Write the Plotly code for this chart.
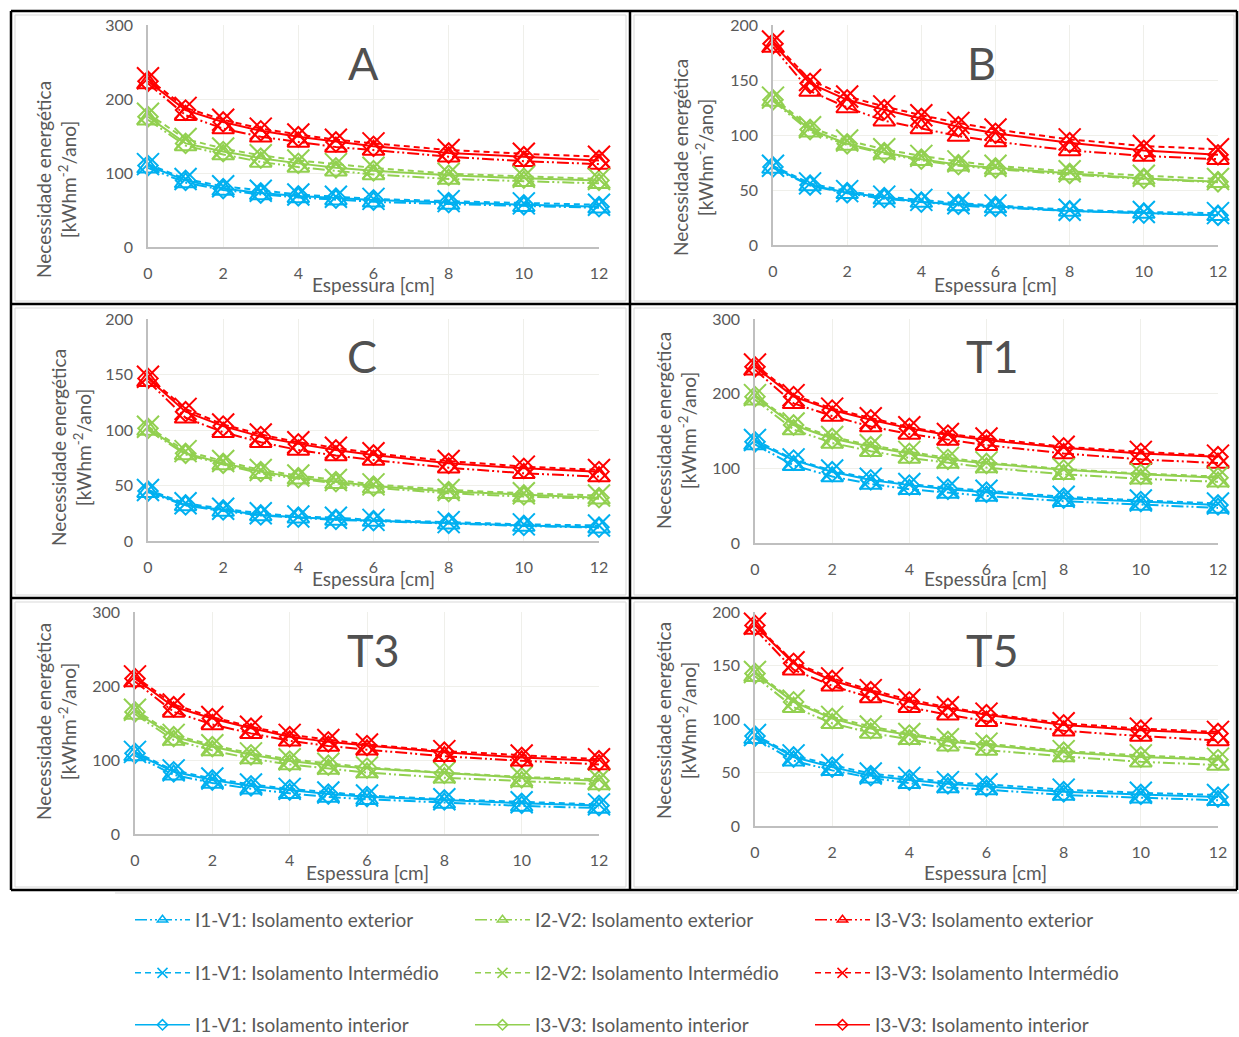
import plotly.graph_objects as go

W, H = 1239, 1037
espessura = [0, 1, 2, 3, 4, 5, 6, 8, 10, 12]

# ---- Panel A ----
A_I1_ext = [107, 87, 77, 71, 67, 64, 61, 58, 55, 53]
A_I2_ext = [172, 137, 125, 115, 108, 103, 98, 92, 89, 86]
A_I3_ext = [221, 178, 160, 149, 142, 135, 131, 122, 116, 112]
A_I1_med = [112, 92, 82, 76, 71, 68, 65, 62, 59, 57]
A_I2_med = [180, 146, 133, 124, 117, 112, 107, 99, 95, 92]
A_I3_med = [228, 188, 172, 160, 152, 145, 140, 131, 126, 122]
A_I1_inr = [110, 90, 79, 73, 69, 66, 63.5, 60, 57, 54.5]
A_I2_inr = [176, 140, 129, 120, 113, 107, 103, 97, 93, 90]
A_I3_inr = [224, 185, 169, 157, 149, 142, 136, 127, 122, 117]

# ---- Panel B ----
B_I1_ext = [70, 54, 47, 42, 39, 36, 34, 31, 29, 27]
B_I2_ext = [131, 103, 91, 83, 77, 72, 69, 64, 60, 57]
B_I3_ext = [180, 140, 125, 113, 106, 99, 94, 86, 81, 78]
B_I1_med = [72, 56, 49, 44, 41, 38, 36, 32, 30, 29]
B_I2_med = [134, 107, 95, 87, 81, 76, 72, 67, 63, 60]
B_I3_med = [185, 150, 135, 126, 118, 111, 105, 96, 90, 87]
B_I1_inr = [71, 54.5, 47.5, 43, 39, 37, 35, 31, 29, 27]
B_I2_inr = [132, 105, 92, 84, 78, 73, 70, 65, 60.5, 57.5]
B_I3_inr = [183, 147, 132, 123, 115, 107.5, 101.5, 93, 86, 82]

# ---- Panel C ----
C_I1_ext = [44, 32, 27, 23, 21, 19, 18, 15.5, 13.5, 12]
C_I2_ext = [100, 78, 69, 61, 56, 52, 48, 43, 40, 38]
C_I3_ext = [144, 111, 98, 89, 82, 77, 73, 66, 61, 58]
C_I1_med = [46, 34, 29, 25, 22, 21, 19, 17, 15, 14]
C_I2_med = [103, 81, 72, 64, 59, 55, 51, 46, 43, 41]
C_I3_med = [148, 119, 105, 96, 89, 84, 79, 72, 67, 64]
C_I1_inr = [45, 32.5, 28, 23.5, 21.5, 19.5, 18.3, 16, 14, 12.5]
C_I2_inr = [101.5, 79, 70, 62.5, 57, 53.5, 49.5, 44.5, 41.5, 39]
C_I3_inr = [146.5, 116.5, 103.5, 94, 87.5, 82, 77.5, 70, 65.5, 62.5]

# ---- Panel T1 ----
T1_I1_ext = [132, 104, 89, 79, 72, 67, 63, 56, 51, 47]
T1_I2_ext = [192, 152, 134, 123, 114, 107, 101, 92, 86, 82]
T1_I3_ext = [232, 187, 170, 156, 146, 138, 131, 120, 112, 107]
T1_I1_med = [138, 112, 97, 86, 79, 74, 70, 62, 57, 53]
T1_I2_med = [198, 160, 142, 131, 122, 114, 108, 99, 93, 89]
T1_I3_med = [239, 198, 180, 167, 155, 146, 140, 129, 122, 117]
T1_I1_inr = [135.5, 111, 95.5, 84.5, 77.5, 72, 68, 60, 55.5, 51]
T1_I2_inr = [196, 158, 140, 129, 120, 112, 106.5, 98, 92, 87.5]
T1_I3_inr = [236, 196, 178, 165, 153.5, 144.5, 138, 127.5, 120, 115.5]

# ---- Panel T3 ----
T3_I1_ext = [106, 80, 69, 61, 55, 50, 47, 42, 38, 35]
T3_I2_ext = [162, 127, 113, 102, 94, 88, 83, 76, 71, 67]
T3_I3_ext = [206, 165, 148, 136, 126, 119, 114, 105, 99, 94]
T3_I1_med = [111, 86, 75, 67, 61, 56, 52, 47, 43, 40]
T3_I2_med = [168, 134, 120, 109, 101, 95, 90, 83, 77, 74]
T3_I3_med = [213, 175, 158, 145, 134, 127, 121, 112, 106, 101]
T3_I1_inr = [109, 84, 73, 65, 59.5, 54, 50.5, 46, 41.5, 38.5]
T3_I2_inr = [165, 131.5, 118, 107, 98.5, 93, 89, 82, 76, 72]
T3_I3_inr = [210, 172, 156, 143, 131.5, 124.5, 119.5, 110.5, 103.5, 99]

# ---- Panel T5 ----
T5_I1_ext = [82, 61, 52, 45, 40, 36, 34, 29, 26.5, 24]
T5_I2_ext = [140, 111, 96, 87, 81, 75, 71, 65, 60, 57]
T5_I3_ext = [184, 146, 131, 120, 111, 104, 98, 89, 84, 80]
T5_I1_med = [85, 66, 57, 49, 45, 41, 39, 34, 31, 29]
T5_I2_med = [144, 117, 102, 93, 86, 81, 77, 70, 66, 63]
T5_I3_med = [189, 153, 138, 127, 118, 111, 105, 96, 91, 88]
T5_I1_inr = [84, 64.5, 55, 47, 43, 39.5, 37, 32, 29.5, 27]
T5_I2_inr = [142.5, 116, 100.5, 91, 85, 79, 75.5, 69, 64.5, 62]
T5_I3_inr = [187.5, 152, 136, 125.5, 116, 110, 104, 94.5, 89.5, 86.5]

panel_labels = ["A", "B", "C", "T1", "T3", "T5"]
y_max = [300, 200, 200, 300, 300, 200]
y_step = [100, 50, 50, 100, 100, 50]
x_ticks = [0, 2, 4, 6, 8, 10, 12]

series_names = {
    ("I1", "ext"): "I1-V1: Isolamento exterior",
    ("I2", "ext"): "I2-V2: Isolamento exterior",
    ("I3", "ext"): "I3-V3: Isolamento exterior",
    ("I1", "med"): "I1-V1: Isolamento Intermédio",
    ("I2", "med"): "I2-V2: Isolamento Intermédio",
    ("I3", "med"): "I3-V3: Isolamento Intermédio",
    ("I1", "inr"): "I1-V1: Isolamento interior",
    ("I2", "inr"): "I3-V3: Isolamento interior",
    ("I3", "inr"): "I3-V3: Isolamento interior",
}

panel_data = {
    "A": {("I1", "ext"): A_I1_ext, ("I2", "ext"): A_I2_ext, ("I3", "ext"): A_I3_ext,
          ("I1", "med"): A_I1_med, ("I2", "med"): A_I2_med, ("I3", "med"): A_I3_med,
          ("I1", "inr"): A_I1_inr, ("I2", "inr"): A_I2_inr, ("I3", "inr"): A_I3_inr},
    "B": {("I1", "ext"): B_I1_ext, ("I2", "ext"): B_I2_ext, ("I3", "ext"): B_I3_ext,
          ("I1", "med"): B_I1_med, ("I2", "med"): B_I2_med, ("I3", "med"): B_I3_med,
          ("I1", "inr"): B_I1_inr, ("I2", "inr"): B_I2_inr, ("I3", "inr"): B_I3_inr},
    "C": {("I1", "ext"): C_I1_ext, ("I2", "ext"): C_I2_ext, ("I3", "ext"): C_I3_ext,
          ("I1", "med"): C_I1_med, ("I2", "med"): C_I2_med, ("I3", "med"): C_I3_med,
          ("I1", "inr"): C_I1_inr, ("I2", "inr"): C_I2_inr, ("I3", "inr"): C_I3_inr},
    "T1": {("I1", "ext"): T1_I1_ext, ("I2", "ext"): T1_I2_ext, ("I3", "ext"): T1_I3_ext,
           ("I1", "med"): T1_I1_med, ("I2", "med"): T1_I2_med, ("I3", "med"): T1_I3_med,
           ("I1", "inr"): T1_I1_inr, ("I2", "inr"): T1_I2_inr, ("I3", "inr"): T1_I3_inr},
    "T3": {("I1", "ext"): T3_I1_ext, ("I2", "ext"): T3_I2_ext, ("I3", "ext"): T3_I3_ext,
           ("I1", "med"): T3_I1_med, ("I2", "med"): T3_I2_med, ("I3", "med"): T3_I3_med,
           ("I1", "inr"): T3_I1_inr, ("I2", "inr"): T3_I2_inr, ("I3", "inr"): T3_I3_inr},
    "T5": {("I1", "ext"): T5_I1_ext, ("I2", "ext"): T5_I2_ext, ("I3", "ext"): T5_I3_ext,
           ("I1", "med"): T5_I1_med, ("I2", "med"): T5_I2_med, ("I3", "med"): T5_I3_med,
           ("I1", "inr"): T5_I1_inr, ("I2", "inr"): T5_I2_inr, ("I3", "inr"): T5_I3_inr},
}

# ---- styling / layout (pixel geometry) ----
colors = {"I1": "#00B0F0", "I2": "#92D050", "I3": "#FF0000"}
dash = {"ext": "12px,3px,2px,3px,2px,3px", "med": "6px,4px", "inr": "solid"}
symbol = {"ext": "triangle-up-open", "med": "x-thin-open", "inr": "diamond-open"}
msize = {"ext": 19, "med": 22, "inr": 15}
leg_msize = {"ext": 9, "med": 10, "inr": 8}
col_index = {"I1": 0, "I2": 1, "I3": 2}
row_index = {"ext": 0, "med": 1, "inr": 2}
legend_col_x = [130, 470, 810]
legend_row_y = [920, 973, 1025]

# plot boxes: left, right, top, bottom (px)
boxes = {
    "A": (148, 599, 25, 247),
    "B": (773, 1218, 25, 245),
    "C": (148, 599, 319, 541),
    "T1": (755, 1218, 319, 543),
    "T3": (135, 599, 612, 834),
    "T5": (755, 1218, 612, 826),
}
letter_pos = {"A": (363, 63), "B": (982, 63), "C": (362, 356),
              "T1": (992, 356), "T3": (373, 650), "T5": (992, 650)}
ytitle_pos = {"A": (56, 180), "B": (693, 157), "C": (71, 448),
              "T1": (676, 431), "T3": (56, 722), "T5": (676, 721)}
xtitle_pos = {"A": (373, 285), "B": (995, 285), "C": (373, 578),
              "T1": (985, 578), "T3": (367, 872), "T5": (985, 872)}

FONT = "Lato"
GRAY = "#595959"
GRID = "#efefea"

def px(x):
    return x / W

def py(y):
    return 1 - y / H

def legend_name(grp, typ):
    k = row_index[typ] * 3 + col_index[grp] + 1
    return "legend" if k == 1 else f"legend{k}"

fig = go.Figure()
layout = dict(
    width=W, height=H, margin=dict(l=0, r=0, t=0, b=0, autoexpand=False),
    paper_bgcolor="white", plot_bgcolor="white",
    font=dict(family=FONT, color=GRAY),
)

annotations = []
shapes = []

for i, lab in enumerate(panel_labels):
    n = i + 1
    xa = "x" if n == 1 else f"x{n}"
    ya = "y" if n == 1 else f"y{n}"
    l, r, t, b = boxes[lab]
    layout["xaxis" if n == 1 else f"xaxis{n}"] = dict(
        domain=[px(l), px(r)], anchor=ya, range=[0, 12],
        tickvals=x_ticks, showgrid=True, gridcolor=GRID, gridwidth=1,
        showline=True, linecolor="#bfbfbf", linewidth=1.5, zeroline=False,
        ticks="", ticklabelstandoff=11,
        tickfont=dict(family=FONT, size=16, color=GRAY),
    )
    layout["yaxis" if n == 1 else f"yaxis{n}"] = dict(
        domain=[py(b), py(t)], anchor=xa, range=[0, y_max[i]],
        dtick=y_step[i], tick0=0, showgrid=True, gridcolor=GRID, gridwidth=1,
        showline=True, linecolor="#bfbfbf", linewidth=1.5, zeroline=False,
        ticks="", ticklabelstandoff=10,
        tickfont=dict(family=FONT, size=16, color=GRAY),
    )
    for typ in ["ext", "med", "inr"]:
        for grp in ["I1", "I2", "I3"]:
            fig.add_trace(go.Scatter(
                x=espessura, y=panel_data[lab][(grp, typ)],
                xaxis=xa, yaxis=ya, mode="lines+markers",
                name=series_names[(grp, typ)], showlegend=False,
                cliponaxis=False,
                line=dict(color=colors[grp], width=2, dash=dash[typ]),
                marker=dict(symbol=symbol[typ], size=msize[typ],
                            color=colors[grp],
                            line=dict(color=colors[grp], width=2)),
            ))
    lx, ly = letter_pos[lab]
    annotations.append(dict(text=lab, x=px(lx), y=py(ly), xref="paper", yref="paper",
                            showarrow=False, xanchor="center", yanchor="middle",
                            font=dict(family=FONT, size=45, color="#505050")))
    tx, ty = ytitle_pos[lab]
    annotations.append(dict(text="Necessidade energética<br>[kWhm<sup>-2</sup>/ano]",
                            x=px(tx), y=py(ty), xref="paper", yref="paper",
                            showarrow=False, textangle=-90, xanchor="center", yanchor="middle",
                            font=dict(family=FONT, size=19, color=GRAY)))
    ex, ey = xtitle_pos[lab]
    annotations.append(dict(text="Espessura [cm]", x=px(ex), y=py(ey),
                            xref="paper", yref="paper", showarrow=False,
                            xanchor="center", yanchor="middle",
                            font=dict(family=FONT, size=19, color=GRAY)))

# legend entries (legend-only traces with small markers, as in the reference legend)
for typ in ["ext", "med", "inr"]:
    for grp in ["I1", "I2", "I3"]:
        fig.add_trace(go.Scatter(
            x=[None], y=[None], xaxis="x", yaxis="y", mode="lines+markers",
            name=series_names[(grp, typ)], legend=legend_name(grp, typ),
            showlegend=True, hoverinfo="skip",
            line=dict(color=colors[grp], width=1.5, dash=dash[typ]),
            marker=dict(symbol=symbol[typ], size=leg_msize[typ], color=colors[grp],
                        line=dict(color=colors[grp], width=1.5)),
        ))
        layout[legend_name(grp, typ)] = dict(
            orientation="v", xref="container", yref="container",
            xanchor="left", yanchor="middle",
            x=px(legend_col_x[col_index[grp]]), y=py(legend_row_y[row_index[typ]]),
            itemsizing="trace", itemwidth=55, bgcolor="rgba(0,0,0,0)",
            borderwidth=0,
            font=dict(family=FONT, size=19, color=GRAY),
        )

# inner light chart-area borders
for (x0, x1) in [(15, 626), (634, 1234)]:
    for (y0, y1) in [(15, 301), (308, 595), (602, 887)]:
        shapes.append(dict(type="rect", xref="paper", yref="paper",
                           x0=px(x0), x1=px(x1), y0=py(y1), y1=py(y0),
                           line=dict(color="#d9d9d9", width=1)))

# black frames
for xv in [11, 630, 1237]:
    shapes.append(dict(type="line", xref="paper", yref="paper",
                       x0=px(xv), x1=px(xv), y0=py(890), y1=py(11),
                       line=dict(color="black", width=2.5)))
for yv in [11, 304, 598, 890]:
    shapes.append(dict(type="line", xref="paper", yref="paper",
                       x0=px(11), x1=px(1237), y0=py(yv), y1=py(yv),
                       line=dict(color="black", width=2.5)))
shapes.append(dict(type="line", xref="paper", yref="paper",
                   x0=px(115), x1=px(1239), y0=py(893), y1=py(893),
                   line=dict(color="#d9d9d9", width=1)))

layout["annotations"] = annotations
layout["shapes"] = shapes

fig.update_layout(**layout)
fig.write_html("out.html")
